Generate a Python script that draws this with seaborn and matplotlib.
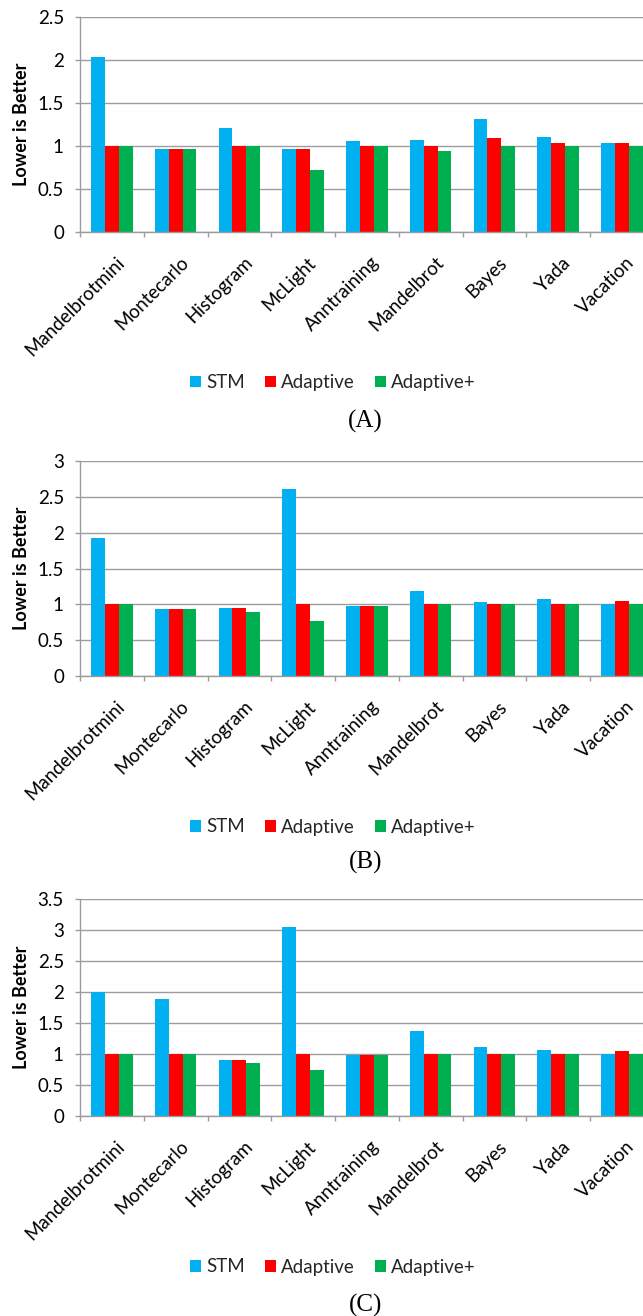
import matplotlib
matplotlib.use("Agg")
import matplotlib.pyplot as plt
import matplotlib.transforms as mtransforms
from matplotlib.patches import Patch
from matplotlib.ticker import FixedLocator, FuncFormatter, MultipleLocator
import pandas as pd
import seaborn as sns

# ---- data -------------------------------------------------------------
benchmarks = ["Mandelbrotmini", "Montecarlo", "Histogram", "McLight",
              "Anntraining", "Mandelbrot", "Bayes", "Yada", "Vacation"]
series = ["STM", "Adaptive", "Adaptive+"]
colors = ["#00B0F0", "#FF0000", "#00B050"]

# panel (A)
stm_a = [2.04, 0.96, 1.21, 0.97, 1.06, 1.07, 1.31, 1.11, 1.04]
adaptive_a = [1.00, 0.96, 1.00, 0.97, 1.00, 1.00, 1.09, 1.04, 1.04]
adaptive_plus_a = [1.00, 0.96, 1.00, 0.72, 1.00, 0.94, 1.00, 1.00, 1.00]

# panel (B)
stm_b = [1.93, 0.93, 0.95, 2.61, 0.97, 1.19, 1.03, 1.07, 1.00]
adaptive_b = [1.00, 0.93, 0.95, 1.00, 0.97, 1.00, 1.01, 1.01, 1.05]
adaptive_plus_b = [1.00, 0.93, 0.89, 0.77, 0.97, 1.00, 1.00, 1.00, 1.00]

# panel (C)
stm_c = [2.00, 1.89, 0.91, 3.05, 0.98, 1.37, 1.12, 1.07, 1.00]
adaptive_c = [1.00, 1.00, 0.91, 1.00, 0.98, 1.00, 1.00, 1.00, 1.05]
adaptive_plus_c = [1.00, 1.00, 0.85, 0.75, 0.98, 1.00, 1.00, 1.00, 1.00]

y_max = [2.5, 3.0, 3.5]
panel_labels = ["(A)", "(B)", "(C)"]
y_label = "Lower is Better"

panels = [
    (stm_a, adaptive_a, adaptive_plus_a),
    (stm_b, adaptive_b, adaptive_plus_b),
    (stm_c, adaptive_c, adaptive_plus_c),
]

# ---- layout (pixels on a 643 x 1316 canvas) ---------------------------
W, H = 643, 1316
AX_LEFT, AX_RIGHT = 80, 653.75
AX_TOPS = [17, 461, 899]
AX_BOTTOMS = [232, 676, 1116]
LEGEND_Y = [382.7, 827, 1267]
LEGEND_X = 333
CAPTION_Y = [421, 862, 1305]
CAPTION_X = 365.5

GRID = "#9c9c9c"
FS = 13.5

sns.set_theme(style="white")
plt.rcParams["font.family"] = ["Lato", "DejaVu Sans"]

fig = plt.figure(figsize=(W / 100, H / 100), dpi=100)

for i, values in enumerate(panels):
    top, bottom = AX_TOPS[i], AX_BOTTOMS[i]
    ax = fig.add_axes([AX_LEFT / W, 1 - bottom / H,
                       (AX_RIGHT - AX_LEFT) / W, (bottom - top) / H])

    df = pd.DataFrame({
        "benchmark": benchmarks * len(series),
        "series": [s for s in series for _ in benchmarks],
        "value": [v for vals in values for v in vals],
    })
    sns.barplot(data=df, x="benchmark", y="value", hue="series",
                order=benchmarks, hue_order=series, palette=colors,
                saturation=1, width=0.654, linewidth=0, ax=ax,
                legend=False, errorbar=None)

    ax.set_xlim(-0.5, len(benchmarks) - 0.5)
    ax.set_ylim(0, y_max[i])
    ax.yaxis.set_major_locator(MultipleLocator(0.5))
    ax.yaxis.set_major_formatter(FuncFormatter(lambda v, p: f"{v:g}"))
    ax.yaxis.grid(True, color=GRID, linewidth=1.0)
    ax.set_axisbelow(True)

    for side in ("top", "right"):
        ax.spines[side].set_visible(False)
    for side in ("left", "bottom"):
        ax.spines[side].set_color(GRID)
        ax.spines[side].set_linewidth(1.0)

    # category boundary ticks below the axis
    ax.xaxis.set_minor_locator(FixedLocator(
        [k - 0.5 for k in range(len(benchmarks) + 1)]))
    ax.tick_params(axis="x", which="minor", bottom=True, length=3.8,
                   width=1.0, color=GRID, direction="out")
    ax.tick_params(axis="x", which="major", bottom=True, length=0, pad=20)
    ax.tick_params(axis="y", which="major", left=True, length=3.6,
                   width=1.0, color=GRID, direction="out", pad=8,
                   labelsize=FS, labelcolor="black")

    ax.set_xticks(range(len(benchmarks)))
    ax.set_xticklabels(benchmarks, rotation=45, ha="right", va="center",
                       rotation_mode="anchor", fontsize=FS, color="black")
    shift = mtransforms.ScaledTranslation(0.10, 0, fig.dpi_scale_trans)
    for lbl in ax.get_xticklabels():
        lbl.set_transform(lbl.get_transform() + shift)

    ax.set_xlabel("")
    ax.set_ylabel(y_label, fontsize=13, fontweight="bold", color="black",
                  va="center")
    ax.yaxis.set_label_coords((22 - AX_LEFT) / (AX_RIGHT - AX_LEFT), 0.5)

    handles = [Patch(facecolor=c, edgecolor="none", label=s)
               for s, c in zip(series, colors)]
    fig.legend(handles=handles, loc="center", ncol=3, frameon=False,
               bbox_to_anchor=(LEGEND_X / W, 1 - LEGEND_Y[i] / H),
               fontsize=FS, handlelength=0.58, handleheight=0.58,
               handletextpad=0.3, columnspacing=1.05, borderpad=0,
               borderaxespad=0)

    fig.text(CAPTION_X / W, 1 - CAPTION_Y[i] / H, panel_labels[i],
             ha="center", va="center", fontsize=18,
             family="Liberation Serif", color="black")

fig.savefig("out.png", dpi=100)
